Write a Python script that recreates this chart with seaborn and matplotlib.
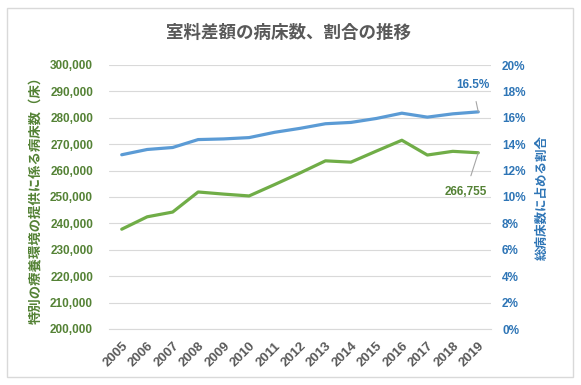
import numpy as np
import pandas as pd
import seaborn as sns
import matplotlib.pyplot as plt
from matplotlib.patches import Rectangle
from matplotlib.ticker import FuncFormatter

sns.set_style('white')
plt.rcParams['font.family'] = ['Liberation Sans', 'Noto Sans CJK JP', 'DejaVu Sans']

years = [2005, 2006, 2007, 2008, 2009, 2010, 2011, 2012, 2013, 2014, 2015, 2016, 2017, 2018, 2019]
beds = [237800, 242500, 244300, 251900, 251100, 250400, 254700, 259100, 263700, 263200,
        267400, 271500, 265900, 267300, 266755]
share = [13.2, 13.6, 13.75, 14.35, 14.4, 14.5, 14.9, 15.2, 15.55, 15.65,
         15.95, 16.35, 16.05, 16.3, 16.45]

df = pd.DataFrame({'year': years, 'beds': beds, 'share': share})

green = '#70AD47'
green_txt = '#548235'
blue = '#5B9BD5'
blue_txt = '#2E75B6'
gray_txt = '#595959'
jp = ['Noto Sans CJK JP', 'DejaVu Sans']

fig = plt.figure(figsize=(5.81, 3.85), dpi=100)
fig.patches.append(Rectangle((7 / 581, 1 - 377 / 385), 566 / 581, 369 / 385,
                             transform=fig.transFigure, fill=False,
                             edgecolor='#D9D9D9', linewidth=1))
ax = fig.add_axes([109 / 581, 1 - 329 / 385, 382 / 581, 264 / 385])
ax2 = ax.twinx()

sns.lineplot(data=df, x='year', y='beds', ax=ax, color=green, linewidth=2.3)
sns.lineplot(data=df, x='year', y='share', ax=ax2, color=blue, linewidth=2.3)

ax.set_xlim(2004.5, 2019.5)
ax.set_ylim(200000, 300000)
ax.set_yticks(np.arange(200000, 300001, 10000))
ax.yaxis.set_major_formatter(FuncFormatter(lambda v, p: f'{int(v):,}'))
ax2.set_ylim(0, 20)
ax2.set_yticks(np.arange(0, 21, 2))
ax2.yaxis.set_major_formatter(FuncFormatter(lambda v, p: f'{int(v)}%'))
ax.set_xticks(years)
ax.set_xticklabels([str(y) for y in years], rotation=45, ha='right',
                   rotation_mode='anchor', color=gray_txt, fontsize=9.5, fontweight='bold')

ax.grid(axis='y', color='#D9D9D9', linewidth=0.8)
for a in (ax, ax2):
    for s in a.spines.values():
        s.set_visible(False)
    a.tick_params(length=0)
ax.spines['bottom'].set_visible(True)
ax.spines['bottom'].set_color('#D9D9D9')

ax.tick_params(axis='y', labelcolor=green_txt, labelsize=8.5, pad=11.5)
ax2.tick_params(axis='y', labelcolor=blue_txt, labelsize=8.5, pad=8)
ax.tick_params(axis='x', pad=8)
for lab in ax.get_yticklabels() + ax2.get_yticklabels():
    lab.set_fontweight('bold')

ax.set_xlabel('')
ax.set_ylabel('特別の療養環境の提供に係る病床数（床）', color=green_txt,
              fontsize=9.6, fontweight='bold', family=jp, labelpad=5)
ax2.set_ylabel('総病床数に占める割合', color=blue_txt,
               fontsize=9, fontweight='bold', family=jp, labelpad=7)

fig.text(0.497, 1 - 33 / 385, '室料差額の病床数、割合の推移', ha='center', va='center',
         fontsize=12.6, fontweight='bold', color=gray_txt, family=jp)

ax2.annotate('16.5%', xy=(years[-1], share[-1]), xytext=(-4, 19),
             textcoords='offset points', ha='center', va='center',
             fontsize=8.5, fontweight='bold', color=blue_txt,
             arrowprops=dict(arrowstyle='-', color='#A6A6A6', lw=0.8,
                             shrinkA=5, shrinkB=0))
ax.annotate(f'{beds[-1]:,}', xy=(years[-1], beds[-1]), xytext=(-9, -28),
            textcoords='offset points', ha='center', va='center',
            fontsize=8.5, fontweight='bold', color=green_txt,
            arrowprops=dict(arrowstyle='-', color='#A6A6A6', lw=0.8,
                            shrinkA=5, shrinkB=0))

fig.savefig('out.png', dpi=100)
